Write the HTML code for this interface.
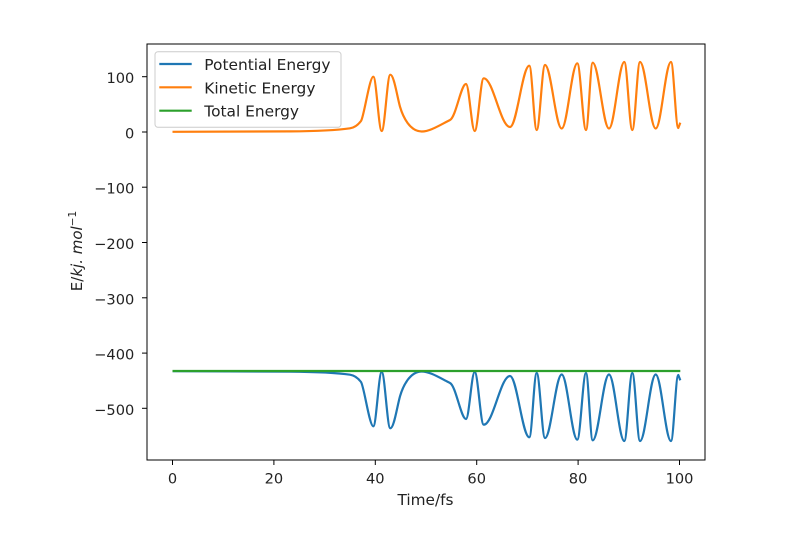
<!DOCTYPE html>
<html>
<head>
<meta charset="utf-8">
<style>
  html, body { margin: 0; padding: 0; background: #fff; }
  svg { display: block; }
  text { font-family: "DejaVu Sans", "Liberation Sans", sans-serif; fill: #222; }
</style>
</head>
<body>
<svg width="800" height="559" viewBox="0 0 800 559" xmlns="http://www.w3.org/2000/svg">
  <rect x="0" y="0" width="800" height="559" fill="#fff"/>

  <defs>
    <path id="kin" d="M172.5 131.8 L290 131.4 C315 131.2 335 130.5 350 128.3 C355 127.5 358 125 361 121 C364 117 369.5 76.7 373.3 76.7 C376.3 76.7 378.7 131 381.7 131 C384.8 131 387.2 74.7 390.3 74.7 C394 74.7 397 96 400 106.7 C403 117 410 131.5 421.7 131.5 C430 131.5 440 125 450 120 C456 117 461 84 466 84 C469.1 84 471.6 131 474.7 131 C477.9 131 480.5 78.3 483.7 78.3 C493.2 78.3 500.5 127 510 127 C516.9 127 522.4 65.7 529.3 65.7 C532 65.7 534 130 536.7 130 C539.7 130 542 65 545 65 C551 65 555.7 128.5 561.7 128.5 C567.3 128.5 571.7 63.3 577.3 63.3 C580.4 63.3 582.9 130 586 130 C588.4 130 590.3 62.7 592.7 62.7 C598.6 62.7 603.1 128.5 609 128.5 C614.5 128.5 618.8 62 624.3 62 C627.2 62 629.4 130 632.3 130 C635.1 130 637.2 62 640 62 C645.7 62 650 128.5 655.7 128.5 C661.2 128.5 665.5 62 671 62 C673.6 62 675.7 128 678.3 128 L680.3 122.7"/>
  </defs>

  <!-- Series -->
  <g fill="none" stroke-linejoin="round" stroke-linecap="butt" stroke-width="2.2">
    <use href="#kin" stroke="#1f77b4" transform="translate(0,503) scale(1,-1)"/>
    <use href="#kin" stroke="#ff7f0e"/>
    <line x1="172.5" y1="371" x2="680.3" y2="371" stroke="#2ca02c"/>
  </g>

  <!-- Axes frame -->
  <rect x="147" y="44" width="558" height="416" fill="none" stroke="#000" stroke-width="1"/>

  <!-- X ticks -->
  <g stroke="#000" stroke-width="1">
    <line x1="172.5" y1="460" x2="172.5" y2="465"/>
    <line x1="273.9" y1="460" x2="273.9" y2="465"/>
    <line x1="375.3" y1="460" x2="375.3" y2="465"/>
    <line x1="476.7" y1="460" x2="476.7" y2="465"/>
    <line x1="578.1" y1="460" x2="578.1" y2="465"/>
    <line x1="679.5" y1="460" x2="679.5" y2="465"/>
  </g>
  <g font-size="14.6" text-anchor="middle">
    <text x="172.5" y="483.5">0</text>
    <text x="273.9" y="483.5">20</text>
    <text x="375.3" y="483.5">40</text>
    <text x="476.7" y="483.5">60</text>
    <text x="578.1" y="483.5">80</text>
    <text x="679.5" y="483.5">100</text>
  </g>

  <!-- Y ticks -->
  <g stroke="#000" stroke-width="1">
    <line x1="142" y1="76.7" x2="147" y2="76.7"/>
    <line x1="142" y1="132" x2="147" y2="132"/>
    <line x1="142" y1="187.2" x2="147" y2="187.2"/>
    <line x1="142" y1="242.5" x2="147" y2="242.5"/>
    <line x1="142" y1="297.8" x2="147" y2="297.8"/>
    <line x1="142" y1="353.1" x2="147" y2="353.1"/>
    <line x1="142" y1="408.3" x2="147" y2="408.3"/>
  </g>
  <g font-size="14.6" text-anchor="end">
    <text x="134.3" y="83.2">100</text>
    <text x="134.3" y="138.5">0</text>
    <text x="134.3" y="193.7">−100</text>
    <text x="134.3" y="249">−200</text>
    <text x="134.3" y="304.3">−300</text>
    <text x="134.3" y="359.6">−400</text>
    <text x="134.3" y="414.8">−500</text>
  </g>

  <!-- Axis labels -->
  <text x="425.5" y="505" font-size="15.3" text-anchor="middle">Time/fs</text>
  <text transform="translate(82,251) rotate(-90)" font-size="15" text-anchor="middle">E/<tspan font-style="italic">kj. mol</tspan><tspan font-size="10.5" dy="-6">−1</tspan></text>

  <!-- Legend -->
  <rect x="155" y="51.7" width="186" height="75.6" rx="3" ry="3" fill="#fff" fill-opacity="0.8" stroke="#ccc" stroke-width="1"/>
  <g stroke-width="2.2">
    <line x1="159.3" y1="64" x2="191.7" y2="64" stroke="#1f77b4"/>
    <line x1="159.3" y1="87.3" x2="191.7" y2="87.3" stroke="#ff7f0e"/>
    <line x1="159.3" y1="110.7" x2="191.7" y2="110.7" stroke="#2ca02c"/>
  </g>
  <g font-size="15.4">
    <text x="204.3" y="70">Potential Energy</text>
    <text x="204.3" y="93.3">Kinetic Energy</text>
    <text x="204.3" y="116.7">Total Energy</text>
  </g>
</svg>
</body>
</html>
